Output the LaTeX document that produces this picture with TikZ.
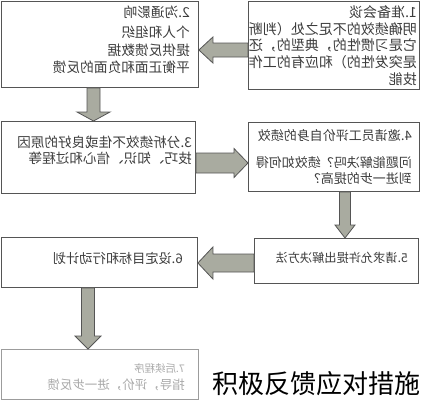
\documentclass[tikz,border=0pt]{standalone}
\usepackage{fontspec}
\usepackage{graphicx}
\newfontfamily\cjk{Noto Sans CJK SC}
\usetikzlibrary{calc}
\definecolor{boxline}{HTML}{555555}
\definecolor{txtcol}{HTML}{3C3C3C}
\definecolor{fadetxt}{HTML}{A8A8A8}
\definecolor{fadeline}{HTML}{9C9C9C}
\definecolor{arrfill}{HTML}{A9ABA0}
\definecolor{arrline}{HTML}{555555}
\tikzset{
  box/.style={draw=boxline, line width=0.9pt, inner sep=0pt, anchor=north west},
  fadebox/.style={box, draw=fadeline},
  txt/.style={inner sep=0pt, anchor=base east, text=txtcol},
  fadetxtstyle/.style={txt, text=fadetxt},
  arrowshape/.style={fill=arrfill, draw=arrline, line width=0.8pt, line join=miter},
}
% #1 name, #2 start, #3 end, #4 shaft half width, #5 head half width, #6 head length
\newcommand\blockarrow[6]{%
  \coordinate (#1h) at ($(#3)!#6!(#2)$);
  \filldraw[arrowshape] ($(#2)!#4!90:(#3)$) -- ($(#1h)!#4!90:(#3)$) -- ($(#1h)!#5!90:(#3)$) -- (#3)
    -- ($(#1h)!#5!-90:(#3)$) -- ($(#1h)!#4!-90:(#3)$) -- ($(#2)!#4!-90:(#3)$) -- cycle;
}
\newcommand\fs[1]{\fontsize{#1}{#1}\selectfont\cjk}
\begin{document}
\begin{tikzpicture}[x=1pt,y=-1pt]
\useasboundingbox (0,0) rectangle (421,400);
% boxes
\node[box, minimum width=171pt, minimum height=88pt] (b1) at (248,1) {};
\node[box, minimum width=197.4pt, minimum height=86.4pt] (b2) at (0.6,0.6) {};
\node[box, minimum width=194.4pt, minimum height=72pt] (b3) at (0.6,121) {};
\node[box, minimum width=171pt, minimum height=69pt] (b4) at (248,122) {};
\node[box, minimum width=164pt, minimum height=45pt] (b5) at (254,238) {};
\node[box, minimum width=196.4pt, minimum height=50pt] (b6) at (0.6,237) {};
\node[fadebox, minimum width=197.4pt, minimum height=50pt] (b7) at (0.6,349) {};
% box 1 text
\node[txt, font=\fs{14}] (t1a) at (417,17.3) {\reflectbox{1.准备会谈}};
\node[txt, font=\fs{14}] (t1b) at (417,34.1) {\reflectbox{明确绩效的不足之处（判断}};
\node[txt, font=\fs{14}] (t1c) at (417,50.9) {\reflectbox{它是习惯性的，典型的，还}};
\node[txt, font=\fs{14}] (t1d) at (417,67.7) {\reflectbox{是突发性的）和应有的工作}};
\node[txt, font=\fs{14}] (t1e) at (417,84.5) {\reflectbox{技能}};
% box 2 text
\node[txt, font=\fs{13.7}] (t2a) at (190,17.2) {\reflectbox{2.沟通影响}};
\node[txt, font=\fs{13.7}] (t2b) at (190,37.2) {\reflectbox{个人和组织}};
\node[txt, font=\fs{13.7}] (t2c) at (190,55.2) {\reflectbox{提供反馈数据}};
\node[txt, font=\fs{13.7}] (t2d) at (190,72.2) {\reflectbox{平衡正面和负面的反馈}};
% box 3 text
\node[txt, font=\fs{13.6}] (t3a) at (192,147.2) {\reflectbox{3.分析绩效不佳或良好的原因}};
\node[txt, font=\fs{13.6}] (t3b) at (192,163.2) {\reflectbox{技巧、知识、信心和过程等}};
% box 4 text
\node[txt, font=\fs{13}] (t4a) at (412,140) {\reflectbox{4.邀请员工评价自身的绩效}};
\node[txt, font=\fs{13}] (t4b) at (412,167) {\reflectbox{问题能解决吗？绩效如何得}};
\node[txt, font=\fs{13}] (t4c) at (412,183) {\reflectbox{到进一步的提高？}};
% box 5, 6 text
\node[txt, font=\fs{12.2}] (t5) at (408,262.6) {\reflectbox{5.请求允许提出解决方法}};
\node[txt, font=\fs{13.2}] (t6) at (183,263) {\reflectbox{6.设定目标和行动计划}};
% box 7 text
\node[fadetxtstyle, font=\fs{10.5}] (t7a) at (185,372) {\reflectbox{7.后续程序}};
\node[fadetxtstyle, font=\fs{12.5}] (t7b) at (185,389.8) {\reflectbox{指导，评价，进一步反馈}};
% caption
\node[inner sep=0pt, anchor=base west, font=\fs{26}, text=black] (cap) at (212,393) {积极反馈应对措施};
% arrow end points
\coordinate (a12s) at (b1.west |- 0,50);
\coordinate (a12t) at (b2.east |- 0,50);
\coordinate (a23s) at (b2.south -| 93.5,0);
\coordinate (a23t) at (b3.north -| 93.5,0);
\coordinate (a34s) at (b3.east |- 0,163);
\coordinate (a34t) at (b4.west |- 0,163);
\coordinate (a45s) at (b4.south -| 345,0);
\coordinate (a45t) at (b5.north -| 345,0);
\coordinate (a56s) at (b5.west |- 0,263);
\coordinate (a56t) at (b6.east |- 0,263);
\coordinate (a67s) at (b6.south -| 88,0);
\coordinate (a67t) at (b7.north -| 88,0);
% arrows
\blockarrow{a12}{a12s}{a12t}{7pt}{13pt}{14pt}
\blockarrow{a23}{a23s}{a23t}{6.5pt}{16.5pt}{9pt}
\blockarrow{a34}{a34s}{a34t}{10pt}{14.5pt}{14pt}
\blockarrow{a45}{a45s}{a45t}{5.5pt}{10pt}{13pt}
\blockarrow{a56}{a56s}{a56t}{9pt}{16pt}{15pt}
\blockarrow{a67}{a67s}{a67t}{6.5pt}{13pt}{13pt}
\end{tikzpicture}
\end{document}
